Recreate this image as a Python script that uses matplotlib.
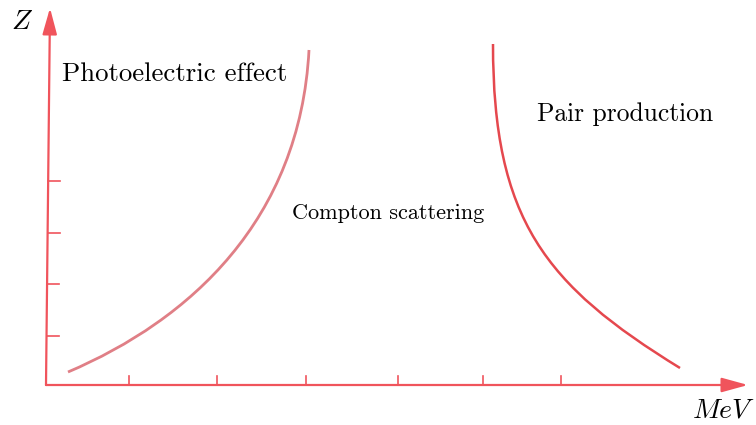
import matplotlib
matplotlib.use("Agg")
import matplotlib.pyplot as plt
from matplotlib.path import Path
from matplotlib.patches import PathPatch

plt.rcParams['font.family'] = ['cmr10', 'DejaVu Serif']
plt.rcParams['mathtext.fontset'] = 'cm'
plt.rcParams['axes.formatter.use_mathtext'] = True

# boundaries drawn as cubic bezier curves: start, control, control, end
photo_x = [2.2, 14.4, 25.4, 26.3]
photo_z = [1.3, 6.5, 16.5, 33.5]

pair_x = [44.7, 44.7, 49.9, 63.4]
pair_z = [34.1, 16.5, 10.0, 1.7]

xticks = [8.3, 17.1, 26.0, 35.2, 43.7, 51.5]
yticks = [4.9, 10.1, 15.2, 20.4]

axis_col = '#f0545c'

fig = plt.figure(figsize=(7.56, 4.25), dpi=100)
ax = fig.add_axes([0, 0, 1, 1])
ax.set_xlim(-4.6, 71.0)
ax.set_ylim(-4.0, 38.5)
ax.axis('off')

# axes as arrows
arrow = dict(arrowstyle='-|>,head_length=0.8,head_width=0.22',
             color=axis_col, lw=1.6, mutation_scale=20, shrinkA=0, shrinkB=0)
ax.annotate('', xy=(70.2, 0), xytext=(0, 0), arrowprops=arrow)
ax.annotate('', xy=(0.4, 37.7), xytext=(0, 0), arrowprops=arrow)

for t in xticks:
    ax.plot([t, t], [0, 0.9], color=axis_col, lw=1.2)
for t in yticks:
    x0 = 0.4 * t / 37.7
    ax.plot([x0, x0 + 1.2], [t, t], color=axis_col, lw=1.2)

codes = [Path.MOVETO, Path.CURVE4, Path.CURVE4, Path.CURVE4]
ax.add_patch(PathPatch(Path(list(zip(photo_x, photo_z)), codes),
                       fill=False, edgecolor='#e07f86', lw=2.0))
ax.add_patch(PathPatch(Path(list(zip(pair_x, pair_z)), codes),
                       fill=False, edgecolor='#e5484e', lw=1.8))

ax.text(-2.4, 36.3, '$Z$', fontsize=20, ha='center', va='center')
ax.text(67.8, -2.5, '$MeV$', fontsize=20, ha='center', va='center')
ax.text(12.9, 31.1, 'Photoelectric effect', fontsize=19.3, ha='center', va='center')
ax.text(34.2, 17.2, 'Compton scattering', fontsize=16, ha='center', va='center')
ax.text(57.9, 27.1, 'Pair production', fontsize=18.4, ha='center', va='center')

fig.savefig('out.png', dpi=100)
